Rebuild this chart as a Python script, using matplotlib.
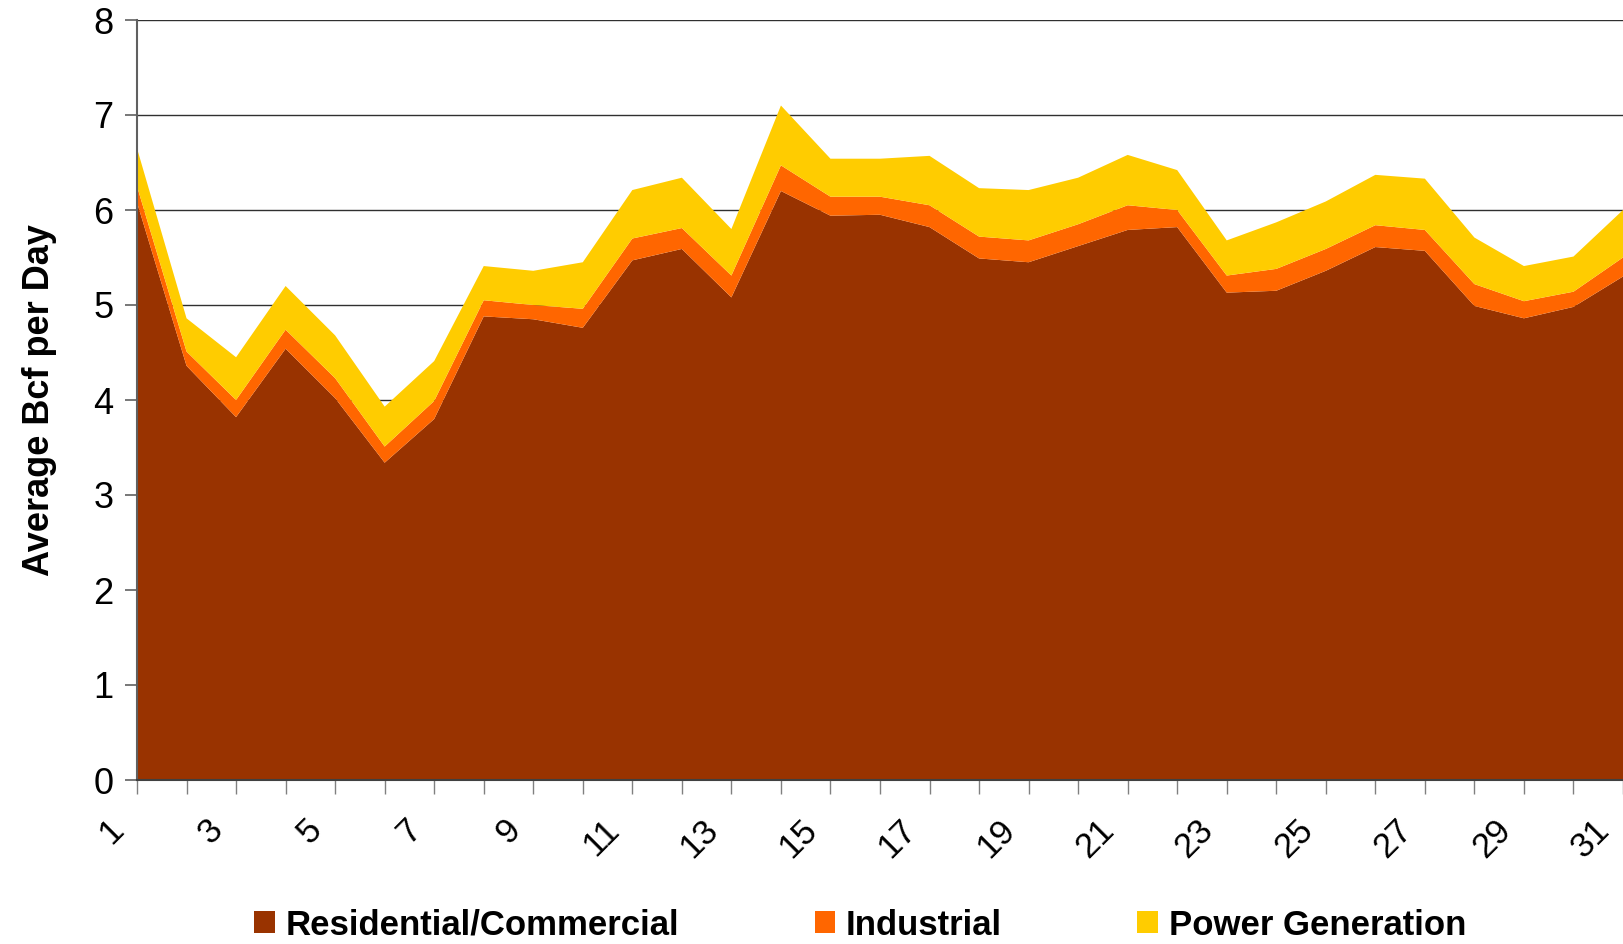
import matplotlib.pyplot as plt
from matplotlib.patches import Patch
from matplotlib.transforms import ScaledTranslation

plt.rcParams['font.family'] = ['Liberation Sans', 'DejaVu Sans']

days = list(range(1, 32))

residential = [6.08, 4.36, 3.82, 4.54, 4.02, 3.34, 3.80, 4.88, 4.85, 4.76,
               5.47, 5.59, 5.08, 6.20, 5.94, 5.95, 5.82, 5.49, 5.45, 5.62,
               5.79, 5.82, 5.13, 5.15, 5.36, 5.61, 5.57, 4.99, 4.86, 4.98, 5.30]
industrial = [0.17, 0.15, 0.18, 0.20, 0.21, 0.17, 0.19, 0.17, 0.15, 0.20,
              0.23, 0.22, 0.23, 0.27, 0.20, 0.19, 0.23, 0.23, 0.23, 0.23,
              0.26, 0.18, 0.18, 0.23, 0.23, 0.23, 0.22, 0.23, 0.18, 0.16, 0.20]
power = [0.40, 0.35, 0.45, 0.46, 0.45, 0.42, 0.42, 0.36, 0.36, 0.49,
         0.51, 0.53, 0.49, 0.63, 0.40, 0.40, 0.52, 0.51, 0.53, 0.49,
         0.53, 0.42, 0.37, 0.49, 0.50, 0.53, 0.54, 0.49, 0.37, 0.37, 0.50]

labels = ["Residential/Commercial", "Industrial", "Power Generation"]
colors = ["#993300", "#FF6600", "#FFCC00"]

fig = plt.figure(figsize=(16.23, 9.44), dpi=100)
ax = fig.add_axes([137 / 1623, 164 / 944, 1486 / 1623, 760 / 944])

ax.stackplot(days, residential, industrial, power, colors=colors,
             linewidth=0, zorder=2)

ax.set_xlim(1, 31)
ax.set_ylim(0, 8)
ax.set_yticks(range(0, 9))
ax.set_xticks(days)
ax.set_xticklabels([str(d) if d % 2 == 1 else "" for d in days],
                   rotation=45, ha="right", rotation_mode="anchor")
ax.tick_params(axis="x", length=10, width=1, color="#808080",
               labelsize=25, pad=14)
ax.tick_params(axis="y", length=9, width=1.2, color="#606060",
               labelsize=26, pad=8)

# shift the slanted day labels left so they sit like the original
shift = ScaledTranslation(-0.30, 0, fig.dpi_scale_trans)
for lbl in ax.get_xticklabels():
    lbl.set_transform(lbl.get_transform() + shift)

ax.grid(axis="y", color="#303030", linewidth=1, zorder=1)
ax.set_axisbelow(True)
for side in ["top", "right"]:
    ax.spines[side].set_visible(False)
ax.spines["left"].set_color("#606060")
ax.spines["left"].set_linewidth(1.5)
ax.spines["bottom"].set_color("#404040")
ax.spines["bottom"].set_linewidth(1.5)
ax.spines["bottom"].set_zorder(3)

ax.set_ylabel("Average Bcf per Day", fontsize=26, fontweight="bold",
              labelpad=26)

handles = [Patch(facecolor=c, edgecolor="none") for c in colors]
fig.legend(handles, labels, loc="center", bbox_to_anchor=(0.53, 0.02),
           ncol=3, frameon=False, prop={"size": 25, "weight": "bold"},
           handlelength=0.6, handleheight=0.6, handletextpad=0.3,
           columnspacing=3.9, borderpad=0)

fig.savefig("out.png", dpi=100)
